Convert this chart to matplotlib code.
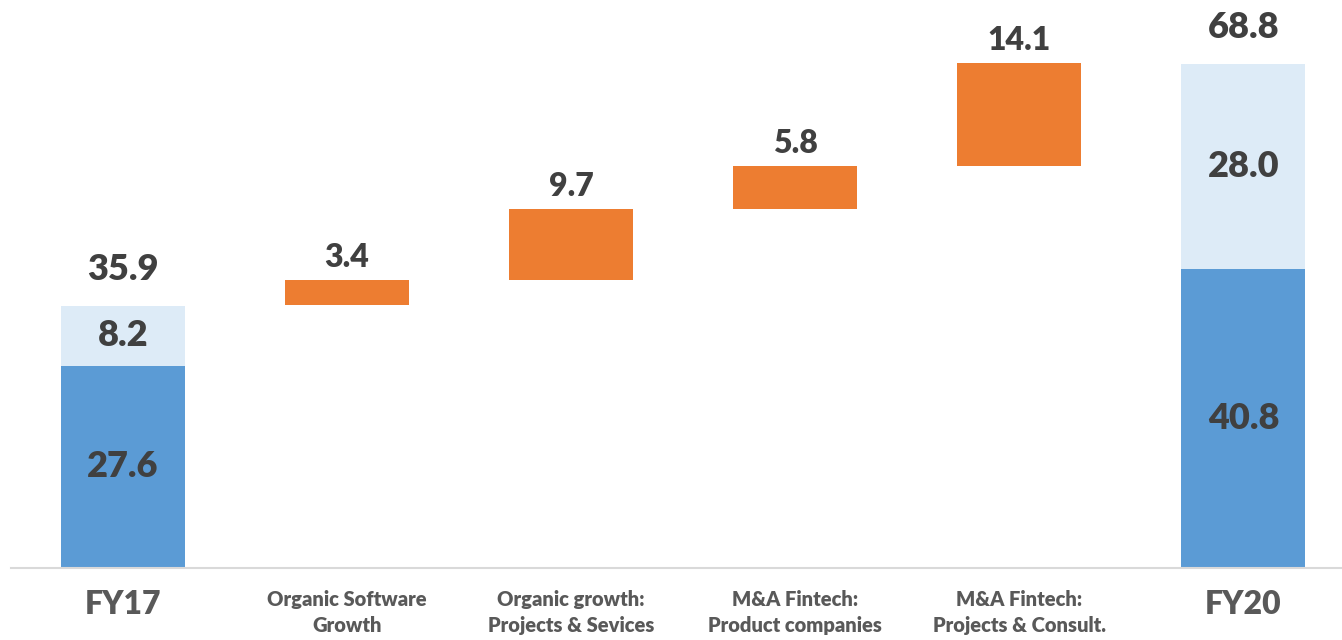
import numpy as np
import matplotlib.pyplot as plt

# data
categories = ["FY17", "Organic Software\nGrowth", "Organic growth:\nProjects & Sevices",
              "M&A Fintech:\nProduct companies", "M&A Fintech:\nProjects & Consult.", "FY20"]
fy17_parts = [27.6, 8.2]
fy17_total = 35.9
increments = [3.4, 9.7, 5.8, 14.1]
fy20_parts = [40.8, 28.0]
fy20_total = 68.8

DARK = "#5B9BD5"
LIGHT = "#DDEBF7"
ORANGE = "#ED7D31"
TXT = "#404040"
WEIGHT = 'heavy'

plt.rcParams['font.family'] = ['Lato', 'DejaVu Sans']

fig = plt.figure(figsize=(13.42, 6.4), dpi=100)
ax = fig.add_axes([11 / 1342, 72 / 640, 1 - 11 / 1342, 568 / 640])

w = 0.553
x = np.arange(len(categories))

# start and end stacked bars
for xi, parts, total in [(0, fy17_parts, fy17_total), (5, fy20_parts, fy20_total)]:
    ax.bar(xi, parts[0], width=w, color=DARK)
    ax.bar(xi, parts[1], bottom=parts[0], width=w, color=LIGHT)
    ax.text(xi, parts[0] / 2, f"{parts[0]:.1f}", ha='center', va='center',
            fontsize=26, fontweight=WEIGHT, color=TXT)
    ax.text(xi, parts[0] + parts[1] / 2, f"{parts[1]:.1f}", ha='center', va='center',
            fontsize=26, fontweight=WEIGHT, color=TXT)
    ax.annotate(f"{total:.1f}", (xi, parts[0] + parts[1]), xytext=(0, 14),
                textcoords='offset points', ha='center', va='bottom',
                fontsize=26, fontweight=WEIGHT, color=TXT)

# floating increments
bottoms = fy17_total + np.concatenate([[0], np.cumsum(increments)[:-1]])
for i, (b, v) in enumerate(zip(bottoms, increments)):
    ax.bar(i + 1, v, bottom=b, width=w, color=ORANGE)
    ax.annotate(f"{v:.1f}", (i + 1, b + v), xytext=(0, 6),
                textcoords='offset points', ha='center', va='bottom',
                fontsize=23, fontweight=WEIGHT, color=TXT)

ax.set_xlim(-0.5, 5.44)
ax.set_ylim(0, 77.5)
ax.set_yticks([])
for s in ['top', 'right', 'left']:
    ax.spines[s].set_visible(False)
ax.spines['bottom'].set_color('#D9D9D9')
ax.spines['bottom'].set_linewidth(1.5)

ax.set_xticks(x)
ax.set_xticklabels(categories)
ax.tick_params(axis='x', length=0, pad=16)
for i, lbl in enumerate(ax.get_xticklabels()):
    lbl.set_fontweight(WEIGHT)
    lbl.set_color('#595959')
    lbl.set_linespacing(1.4)
    if i in (0, 5):
        lbl.set_fontsize(23)
    else:
        lbl.set_fontsize(14.5)

fig.savefig("out.png", dpi=100)
